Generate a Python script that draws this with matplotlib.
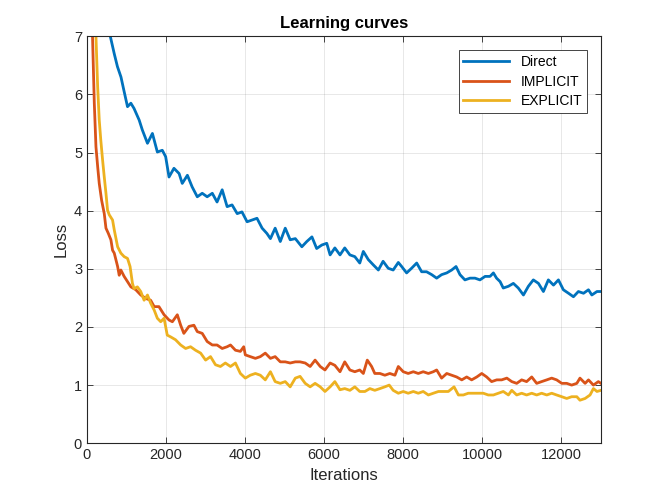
import matplotlib
matplotlib.use("Agg")
import matplotlib.pyplot as plt

plt.rcParams['font.family'] = ['Liberation Sans', 'DejaVu Sans']

direct_x = [0, 300, 590, 690, 770, 860, 940, 1025, 1110, 1190, 1320, 1400, 1530, 1655, 1780, 1905, 1990,
            2075, 2200, 2330, 2410, 2540, 2660, 2790, 2915, 3040, 3170, 3290, 3420, 3545, 3670, 3800,
            3920, 4050, 4175, 4300, 4430, 4550, 4640, 4760, 4890, 5015, 5140, 5270, 5435, 5560, 5690,
            5810, 5940, 6065, 6150, 6270, 6400, 6520, 6650, 6775, 6900, 6990, 7115, 7240, 7370, 7490,
            7620, 7745, 7875, 7960, 8085, 8210, 8340, 8465, 8590, 8720, 8845, 8970, 9100, 9225, 9335,
            9435, 9560, 9690, 9815, 9940, 10070, 10195, 10280, 10360, 10450, 10530, 10660, 10785,
            10910, 11040, 11165, 11290, 11420, 11545, 11670, 11800, 11925, 12050, 12180, 12305,
            12430, 12560, 12685, 12770, 12900, 13000]
direct_y = [12.0, 8.6, 7.0, 6.70, 6.48, 6.30, 6.05, 5.79, 5.85, 5.76, 5.56, 5.39, 5.16, 5.33, 5.01, 5.04, 4.93,
            4.58, 4.73, 4.64, 4.47, 4.61, 4.41, 4.24, 4.30, 4.24, 4.30, 4.15, 4.36, 4.07, 4.10, 3.95,
            3.98, 3.81, 3.84, 3.87, 3.70, 3.61, 3.52, 3.70, 3.47, 3.70, 3.50, 3.52, 3.38, 3.47, 3.55,
            3.35, 3.41, 3.44, 3.24, 3.36, 3.24, 3.36, 3.24, 3.21, 3.10, 3.30, 3.16, 3.07, 2.98, 3.13,
            3.01, 2.98, 3.11, 3.04, 2.93, 3.01, 3.10, 2.95, 2.95, 2.90, 2.84, 2.90, 2.93, 2.98, 3.04,
            2.90, 2.81, 2.84, 2.84, 2.81, 2.87, 2.87, 2.93, 2.84, 2.78, 2.67, 2.70, 2.75,
            2.67, 2.55, 2.70, 2.81, 2.75, 2.61, 2.81, 2.72, 2.81, 2.64, 2.58, 2.52,
            2.61, 2.58, 2.64, 2.55, 2.61, 2.61]

implicit_x = [0, 100, 140, 185, 227, 270, 310, 370, 437, 480, 540, 605, 647, 690, 775, 815, 857, 940, 1025,
              1110, 1235, 1360, 1490, 1610, 1700, 1820, 1950, 2075, 2160, 2285, 2370, 2450, 2580, 2705,
              2790, 2915, 3040, 3170, 3290, 3420, 3545, 3630, 3755, 3880, 3965, 4005, 4130, 4260, 4385,
              4510, 4640, 4760, 4890, 5015, 5140, 5270, 5390, 5520, 5645, 5770, 5900, 6020, 6150, 6270,
              6400, 6520, 6650, 6775, 6900, 6990, 7090, 7200, 7280, 7410, 7535, 7660, 7790, 7875, 8000,
              8125, 8255, 8380, 8505, 8635, 8760, 8845, 8970, 9100, 9225, 9350, 9480, 9605, 9730, 9860,
              9985, 10110, 10235, 10365, 10490, 10620, 10745, 10870, 10995, 11120, 11250, 11375, 11500,
              11630, 11755, 11880, 12010, 12135, 12260, 12390, 12470, 12600, 12685, 12810, 12935, 13000]
implicit_y = [15.0, 8.5, 7.0, 5.85, 5.10, 4.76, 4.47, 4.18, 3.95, 3.70, 3.61, 3.50, 3.32, 3.27, 3.04, 2.89, 2.98,
              2.87, 2.78, 2.69, 2.64, 2.55, 2.49, 2.46, 2.35, 2.35, 2.21, 2.12, 2.09, 2.21, 2.03, 1.89,
              2.01, 2.03, 1.92, 1.89, 1.75, 1.69, 1.69, 1.63, 1.66, 1.69, 1.60, 1.58, 1.66, 1.52, 1.49,
              1.46, 1.49, 1.55, 1.46, 1.49, 1.40, 1.40, 1.38, 1.40, 1.40, 1.38, 1.32, 1.43, 1.32, 1.26,
              1.38, 1.34, 1.23, 1.40, 1.26, 1.23, 1.26, 1.20, 1.43, 1.32, 1.20, 1.20, 1.17, 1.20, 1.17,
              1.32, 1.23, 1.20, 1.23, 1.20, 1.23, 1.20, 1.23, 1.26, 1.12, 1.20, 1.17, 1.14, 1.09, 1.14,
              1.09, 1.14, 1.20, 1.14, 1.06, 1.09, 1.09, 1.12, 1.06, 1.03, 1.09, 1.06, 1.14, 1.03, 1.06,
              1.09, 1.12, 1.09, 1.03, 1.03, 1.00, 1.03, 1.12, 1.03, 1.09, 1.00, 1.06, 1.03]

explicit_x = [0, 150, 227, 270, 310, 350, 395, 437, 480, 520, 563, 647, 690, 775, 857, 940, 1025, 1090, 1150,
              1190, 1275, 1360, 1445, 1530, 1610, 1700, 1780, 1865, 1950, 2030, 2115, 2240, 2370, 2495,
              2620, 2745, 2875, 3000, 3125, 3250, 3375, 3500, 3630, 3755, 3880, 4005, 4130, 4260, 4385,
              4510, 4640, 4760, 4890, 5015, 5140, 5270, 5390, 5520, 5645, 5770, 5900, 6020, 6150, 6270,
              6400, 6520, 6650, 6775, 6900, 7030, 7155, 7280, 7410, 7535, 7645, 7745, 7875, 8000, 8125,
              8255, 8380, 8505, 8635, 8760, 8890, 9015, 9140, 9285, 9395, 9520, 9645, 9775, 9900, 10025,
              10150, 10280, 10405, 10530, 10660, 10745, 10870, 10995, 11120, 11250, 11375, 11500, 11630,
              11755, 11880, 12010, 12135, 12260, 12390, 12470, 12600, 12725, 12810, 12900, 13000]
explicit_y = [15.0, 8.8, 7.0, 6.13, 5.56, 5.21, 4.87, 4.58, 4.30, 4.01, 3.93, 3.84, 3.67, 3.38, 3.27, 3.21,
              3.18, 3.04, 2.75, 2.66, 2.69, 2.61, 2.46, 2.55, 2.41, 2.29, 2.15, 2.09, 2.15, 1.86, 1.83,
              1.78, 1.69, 1.63, 1.66, 1.60, 1.55, 1.43, 1.49, 1.35, 1.32, 1.38, 1.32, 1.38, 1.20, 1.12,
              1.17, 1.20, 1.17, 1.09, 1.23, 1.06, 1.03, 1.06, 0.97, 1.12, 1.15, 1.03, 0.97, 1.03, 0.97,
              0.89, 0.97, 1.06, 0.92, 0.94, 0.91, 0.97, 0.89, 0.89, 0.94, 0.91, 0.94, 0.97, 1.00, 0.91,
              0.86, 0.89, 0.86, 0.89, 0.86, 0.89, 0.83, 0.86, 0.89, 0.89, 0.89, 0.97, 0.83, 0.83, 0.86,
              0.86, 0.86, 0.86, 0.83, 0.83, 0.86, 0.89, 0.83, 0.91, 0.83, 0.86, 0.83, 0.86, 0.83, 0.86,
              0.83, 0.86, 0.83, 0.80, 0.77, 0.80, 0.80, 0.74, 0.77, 0.83, 0.94, 0.89, 0.91]

labels = ['Direct', 'IMPLICIT', 'EXPLICIT']
colors = ['#0072BD', '#D95319', '#EDB120']

fig = plt.figure(figsize=(6.64, 4.98), dpi=100)
ax = fig.add_axes([0.131, 0.110, 0.774, 0.817])

for xs, ys, lab, c in zip([direct_x, implicit_x, explicit_x], [direct_y, implicit_y, explicit_y], labels, colors):
    ax.plot(xs, ys, color=c, lw=2.0, label=lab)

ax.set_xlim(0, 13000)
ax.set_ylim(0, 7)
ax.set_xticks(range(0, 13000, 2000))
ax.set_yticks(range(0, 8))
ax.grid(True, color='#262626', alpha=0.12, lw=0.6)
ax.set_axisbelow(True)
ax.tick_params(direction='in', top=True, right=True, length=4, width=0.6, colors='#262626', labelsize=10.5)
for s in ax.spines.values():
    s.set_color('#262626')
    s.set_linewidth(0.8)
ax.set_xlabel('Iterations', fontsize=12, color='#262626')
ax.set_ylabel('Loss', fontsize=12, color='#262626')
ax.set_title('Learning curves', fontsize=12, fontweight='bold', color='black')
leg = ax.legend(loc='upper right', bbox_to_anchor=(0.973, 0.966), fontsize=10, fancybox=False, framealpha=1,
                edgecolor='#262626', handlelength=3.3, borderaxespad=0.0, labelspacing=0.4,
                borderpad=0.35)
leg.get_frame().set_linewidth(0.6)

fig.savefig('out.png', dpi=100)
